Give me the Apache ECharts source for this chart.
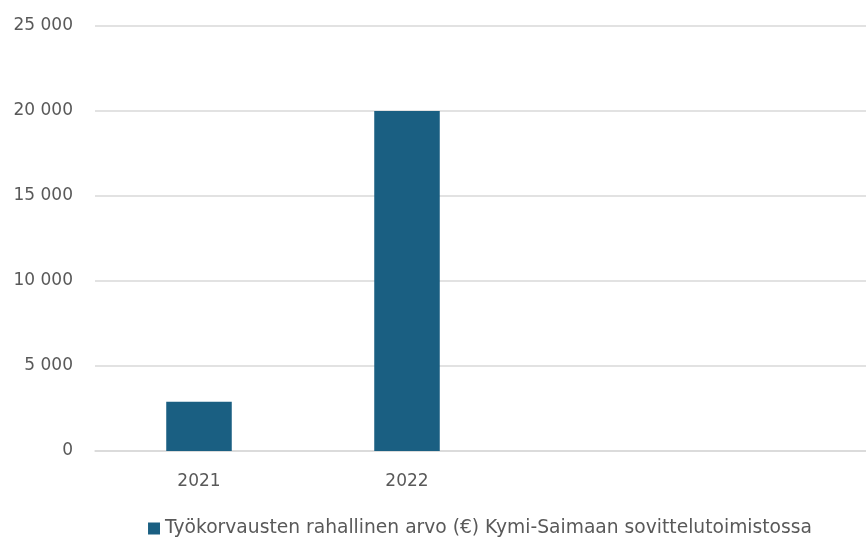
<!DOCTYPE html>
<html><head><meta charset="utf-8">
<script src="https://cdn.jsdelivr.net/npm/echarts@6/dist/echarts.min.js"></script>
<style>html,body{margin:0;padding:0;background:#fff;overflow:hidden;width:866px;height:538px}#c{width:960px;height:538px}</style>
</head><body><div id="c"></div>
<script>
const categories = ['2021', '2022', '', ''];
const values = [2900, 20000, null, null];
const seriesName = 'Työkorvausten rahallinen arvo (€) Kymi-Saimaan sovittelutoimistossa';
const yTicks = { min: 0, max: 25000, interval: 5000 };

const chart = echarts.init(document.getElementById('c'), null, { renderer: 'canvas' });
const fmt = v => String(v).replace(/\B(?=(\d{3})+(?!\d))/g, ' ');
const FONT = 'DejaVu Sans';
chart.setOption({
  animation: false,
  textStyle: { fontFamily: FONT },
  grid: { left: 95, right: 33, top: 26, bottom: 87, containLabel: false },
  legend: {
    bottom: -5, left: 'center', itemWidth: 12, itemHeight: 12, itemGap: 5,
    icon: 'rect',
    textStyle: { color: '#595959', fontSize: 18.7, fontFamily: FONT },
    data: [seriesName]
  },
  xAxis: {
    type: 'category', data: categories,
    axisLine: { lineStyle: { color: '#d9d9d9', width: 1.5 } },
    axisTick: { show: false },
    axisLabel: { color: '#595959', fontSize: 17, margin: 22, fontFamily: FONT }
  },
  yAxis: {
    type: 'value', min: yTicks.min, max: yTicks.max, interval: yTicks.interval,
    axisLine: { show: false }, axisTick: { show: false },
    splitLine: { lineStyle: { color: '#d9d9d9', width: 1.5 } },
    axisLabel: { color: '#595959', fontSize: 17, margin: 22, formatter: fmt, fontFamily: FONT }
  },
  series: [{
    name: seriesName, type: 'bar', data: values, barWidth: '31.5%',
    itemStyle: { color: '#1a5f82' }
  }]
});
</script></body></html>
